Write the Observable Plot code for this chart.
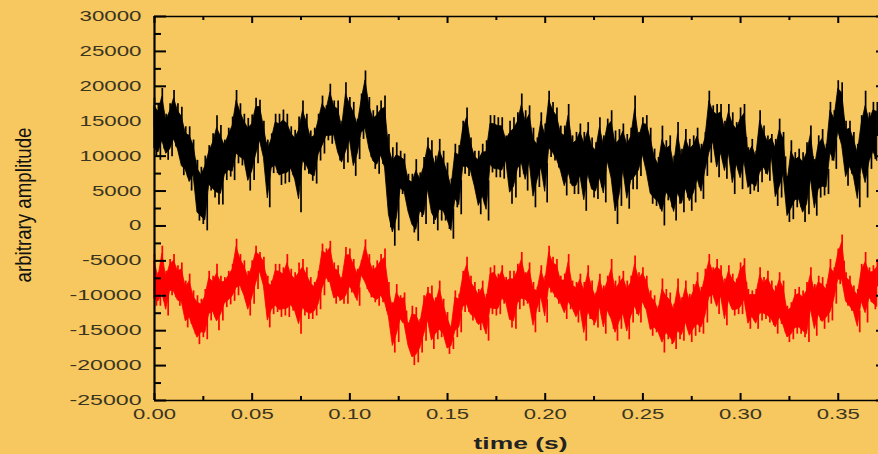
<!DOCTYPE html>
<html>
<head>
<meta charset="utf-8">
<script src="https://cdn.jsdelivr.net/npm/d3@7"></script>
<script src="https://cdn.jsdelivr.net/npm/@observablehq/plot@0.6"></script>
<style>
html,body{margin:0;padding:0;background:#F7C85F;overflow:hidden}
svg{display:block}
</style>
</head>
<body>
<div id="chart"></div>
<script>
const sampleStep = 0.002;
// thousands of amplitude units, one hi/lo pair per sample step
const blackHigh = [18.3,17.5,19.7,16,17.5,19.4,17.5,17,14.2,14.2,
12.3,9.4,8.4,10,11.5,13.2,15.8,14.4,12.3,14,
15.6,19.4,17.5,16,15.4,15.9,18.3,18,15,12.3,
13.2,16,16,16.6,16,14.2,13.7,15.6,
17.9,16,13.6,14,16,18.6,17.2,20.3,17.9,17.9,15,20.5,
18.4,17.7,15.3,18.9,22.2,18.4,16.5,17.2,17.9,18.6,
13.1,11.2,11.9,10.7,10.3,7.4,7.4,9.5,7.6,9.8,
12.6,12.2,10,12.4,10.7,9,6.7,11.7,11.5,15,
16.9,12.6,10.7,10.7,11.7,12.2,15.8,15.8,15.5,15.5,
12.9,15,15.5,16.2,18.9,16.5,17.2,14,12.6,16.2,
14.6,19.3,17.7,16.9,14.3,14.3,17.4,12.9,13.4,14.6,
13.4,14.8,12.6,11.9,15.5,12.9,15.3,16.5,13.6,13.8,
14.6,13.1,14,18.6,13.4,15.5,15.8,14,11,9.8,
14.3,12.2,12.9,10,14.8,11,13.8,12.4,12.9,14,
11.7,13.4,19.3,17.2,17.4,17.4,15,17.4,16.2,14.8,
16.9,17.4,11.2,12.4,10.7,16.5,14.3,12.9,13.1,12.4,
15.3,13.4,7.1,12.2,10.5,11,10.5,11.9,14.3,9.5,
12.9,13.8,11.7,17.7,16.5,20.8,20.5,15,15,13.4,
11.7,15.8,19.3,16.2,17.7,17.7];
const blackLow = [9.9,9.4,11,9.4,9.9,11.3,9.9,7.2,7,5,
6.5,0.7,0.2,-0.7,5,4,3,3,6.5,7,
6.5,8.9,8.6,8.4,5,6.5,8.9,11.3,8.9,2.6,
7.5,7.5,5.8,6,6.2,7.2,5.5,1.9,
7.9,7.4,6.4,6,9.3,10.3,12.2,11.7,12.2,9.3,8.1,9,
11.4,7.1,9.5,12.4,12.6,9.8,8.1,7.4,8.8,6.7,
-0.25,-2.9,-0.7,4.5,4,1.2,-1,-2.2,1.2,0.2,
4,0.2,-0.7,0.7,0.7,-0.5,-1.9,2.6,1.6,7.4,
7.1,7.1,4.8,1.6,3.1,0.7,7.6,6.9,6.9,6.7,
8.8,3.1,4,6.9,7.4,5,7.9,2.6,5.5,7.1,
3.3,9.8,9.3,8.3,6.9,4.3,6,4.5,4.5,6,
2.1,6.2,4,3.8,5.5,3.3,8.3,5.2,0.2,2.8,
6.9,2.4,5.2,5.2,7.1,9.3,6.4,3.1,2.8,2.4,
0,3.6,2.6,0.7,3.1,1.9,4,2.1,3.3,5.5,
3.8,7.1,9,11.2,6.9,9.3,6.7,9.3,4.5,7.9,
5.2,7.9,4.5,5,4.8,6.2,7.4,6.4,9.3,2.8,
4,6.4,0.5,0.9,2.6,2.6,0.5,1.6,5.5,1.4,
4,4.3,4.5,9.3,8.1,12.4,10,5.7,7.4,6,
2.6,7.4,4,8.1,9.5,7.9];
const redHigh = [-4.1,-6.7,-2.9,-6.5,-4.8,-4.1,-5.7,-5.3,-7.9,-6.9,
-9.3,-10,-10.5,-9.1,-6.5,-7.2,-5.5,-7.2,-7.4,-6.5,
-5.5,-1.9,-4.1,-5,-6.5,-5,-2.9,-3.8,-4.5,-7.2,
-7.9,-5.5,-5.5,-6,-4.1,-6.2,-6.7,
-5.3,-4.8,-6,-7.4,-8.1,-6.5,-2.6,-3.3,-2.2,-5.3,-5.7,-7.4,-3.1,
-3.3,-4.8,-6.2,-5,-2,-4.1,-5.7,-5,-4.1,-3.3,
-8.1,-11,-8.4,-10,-9.6,-13.9,-11.5,-11.7,-13.4,-10,
-8.8,-8.6,-10.3,-7.9,-10.5,-12.4,-14.3,-9.3,-9.8,-6.5,
-4.5,-7.2,-8.1,-9.1,-7.9,-9.8,-6,-5.7,-6.9,-5.7,
-7.4,-6.5,-6.5,-5.5,-3.8,-6.7,-5.3,-8.1,-8.8,-5.7,
-7.2,-2.9,-4.5,-4.8,-7.2,-6.9,-4.1,-7.9,-8.1,-6.9,
-8.1,-5.7,-7.9,-9.6,-6.9,-8.6,-7.2,-4.8,-7.9,-7.2,
-6.5,-7.9,-7.2,-4.3,-6.7,-6,-7.2,-9.3,-10,-11.5,
-7.6,-9.1,-9.6,-11.2,-7.6,-10.3,-7.9,-9.8,-8.4,-6.7,
-8.8,-6.2,-4.1,-6,-4.8,-5.7,-7.6,-5.7,-6.9,-7.6,
-5.3,-4.7,-9.1,-9.3,-9.1,-6,-7.4,-6.5,-7.9,-8.6,
-6.7,-7.9,-11.5,-11,-9.1,-8.8,-9.3,-8.1,-6,-8.4,
-7.2,-7.4,-8.4,-4.8,-6,-3.3,-1.3,-6.7,-7.2,-8.6,
-9.1,-5.5,-3.8,-6,-5.7,-4.8];
const redLow = [-11.5,-11.5,-10.8,-12.9,-10,-10.3,-11.5,-11.8,-14.6,-14.1,
-15.5,-17,-16,-16.3,-13.6,-13.1,-15,-13.6,-11.7,-11.3,
-10.8,-10,-9.3,-10.8,-12.9,-11.2,-9.1,-7,-9.3,-14.6,
-12.7,-12.4,-13.1,-12.9,-13.1,-12.2,-13.1,
-15.5,-12.9,-13.4,-13.4,-12.9,-12,-10,-8.1,-9.1,-11.2,-10.8,-11.2,-11.2,
-9.6,-10.3,-11.5,-7.4,-9.1,-10.3,-11,-11.5,-11,-12.2,
-13.9,-18.2,-16.7,-13.9,-14.8,-17.7,-20,-19.6,-18.2,-16.5,
-14.3,-17.7,-16.3,-16,-16.3,-18.4,-17.7,-16,-15.3,-12.4,
-12.4,-13.6,-13.9,-15,-14.8,-16.5,-12.7,-12.9,-12.7,-11.2,
-11.5,-14.6,-14.8,-12,-11.5,-11.2,-12,-15.3,-12.4,-11,
-13.9,-9.6,-10.3,-11.2,-11.7,-13.4,-12,-12.4,-13.9,-12.7,
-16.5,-13.4,-14.3,-14.6,-12.4,-15.5,-12.9,-14.8,-16.5,-14.8,
-13.6,-16.3,-13.9,-12.7,-13.9,-11.7,-12.9,-15.8,-15.3,-15.8,
-18.2,-16.3,-17,-17.7,-16.3,-16.5,-14.8,-16.7,-15.8,-15.3,
-15.5,-13.9,-11.2,-10.5,-12.7,-10.8,-14.3,-11.5,-12.9,-12.7,
-12.7,-11.5,-14.8,-13.6,-14.8,-13.6,-13.4,-13.9,-14.3,-15.5,
-14.1,-15.3,-16.7,-16.3,-15.5,-15.5,-16,-16.7,-12.9,-15.8,
-13.6,-14.8,-13.9,-13.6,-11.2,-8.4,-8.8,-11.5,-12.2,-12.9,
-15.3,-11.7,-13.9,-11,-12,-12.7];

const xMajor = [0,0.05,0.10,0.15,0.20,0.25,0.30,0.35];
const xMinor = [0.025,0.075,0.125,0.175,0.225,0.275,0.325];
const yMajor = [30000,25000,20000,15000,10000,5000,0,-5000,-10000,-15000,-20000,-25000];
const yMinor = [27500,22500,17500,12500,7500,2500,-2500,-7500,-12500,-17500,-22500];

// each sample: its spike up, its spike down, and the solid body the spikes rise out of
const bodyShare = 0.72;
const traceRows = (hi, lo) => hi.map((h, i) => {
  const mid = (h + lo[i]) / 2;
  return {
    t: i * sampleStep,
    tDown: (i + 0.5) * sampleStep,
    hi: h * 1000,
    lo: lo[i] * 1000,
    mid: mid * 1000,
    bodyHi: (mid + (h - mid) * bodyShare) * 1000,
    bodyLo: (mid + (lo[i] - mid) * bodyShare) * 1000
  };
});
const traceMarks = (rows, color) => [
  Plot.areaY(rows, {x: "t", y1: "bodyLo", y2: "bodyHi", fill: color, stroke: color, strokeWidth: 0.8}),
  Plot.ruleX(rows, {x: "t", y1: "mid", y2: "hi", stroke: color, strokeWidth: 1.7}),
  Plot.ruleX(rows, {x: "tDown", y1: "mid", y2: "lo", stroke: color, strokeWidth: 1.7})
];

const W = 878, H = 454, mL = 154, mT = 16, mB = 54;
const fw = W - mL, fh = H - mT - mB;
const ink = "#000";
const textInk = "#3a3520";

const plot = Plot.plot({
  width: W, height: H,
  marginLeft: mL, marginRight: 0, marginTop: mT, marginBottom: mB,
  style: {background: "#F7C85F", fontFamily: "Liberation Sans"},
  x: {domain: [0, 0.3706], label: null},
  y: {domain: [-25000, 30000], label: null},
  marks: [
    Plot.axisY(yMajor, {tickSize: 0, tickPadding: 13, label: null, fontSize: 14, color: textInk,
      tickFormat: d => String(d)}),
    Plot.axisX(xMajor, {tickSize: 0, tickPadding: 9, label: null, fontSize: 14, color: textInk,
      tickFormat: d => d.toFixed(2)}),
    ...traceMarks(traceRows(blackHigh, blackLow), "#000"),
    ...traceMarks(traceRows(redHigh, redLow), "#f00"),
    Plot.tickY(yMajor, {y: d => d, insetRight: fw - 12, stroke: ink, strokeWidth: 2}),
    Plot.tickY(yMinor, {y: d => d, insetRight: fw - 7, stroke: ink, strokeWidth: 2}),
    Plot.tickY(yMajor, {y: d => d, insetLeft: fw - 2, stroke: ink, strokeWidth: 2}),
    Plot.tickX(xMajor, {x: d => d, insetTop: fh - 7, stroke: ink, strokeWidth: 2}),
    Plot.tickX(xMinor, {x: d => d, insetTop: fh - 4, stroke: ink, strokeWidth: 2}),
    Plot.tickX(xMajor, {x: d => d, insetBottom: fh - 7, stroke: ink, strokeWidth: 2}),
    Plot.tickX(xMinor, {x: d => d, insetBottom: fh - 4, stroke: ink, strokeWidth: 2}),
    Plot.ruleX([0], {stroke: ink, strokeWidth: 2.2}),
    Plot.ruleY([-25000, 30000], {stroke: ink, strokeWidth: 1.6}),
    Plot.text(["arbitrary amplitude"], {text: d => d, frameAnchor: "left", textAnchor: "middle", rotate: -90, dx: -131, dy: -3.5,
      fontSize: 22, fill: "#111"}),
    Plot.text(["time (s)"], {text: d => d, frameAnchor: "bottom", dx: 4, dy: 43, lineAnchor: "middle",
      fontSize: 17, fontWeight: "bold", fill: "#222"})
  ]
});

// the original lettering is stretched horizontally
plot.querySelectorAll("text").forEach(t => {
  const s = t.textContent.trim();
  let len = null;
  if (/^-?\d+$/.test(s)) len = s.replace("-", "").length * 12.4 + (s[0] === "-" ? 10 : 0);
  else if (/^0\.\d\d$/.test(s)) len = 43;
  else if (s === "arbitrary amplitude") len = 155;
  else if (s === "time (s)") len = 94;
  if (len) { t.setAttribute("textLength", len); t.setAttribute("lengthAdjust", "spacingAndGlyphs"); }
});
document.getElementById("chart").appendChild(plot);
</script>
</body>
</html>
